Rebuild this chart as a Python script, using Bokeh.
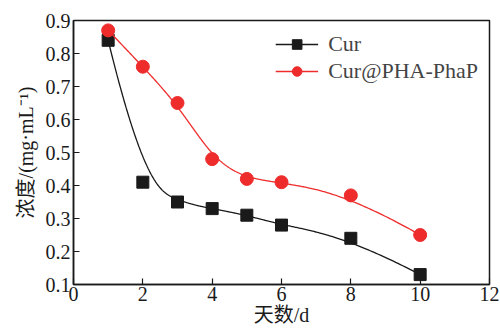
import numpy as np
from bokeh.plotting import figure
from bokeh.models import Legend, LegendItem, FixedTicker
from bokeh.embed import file_html
from bokeh.resources import INLINE

days = [1, 2, 3, 4, 5, 6, 8, 10]
cur = [0.84, 0.41, 0.35, 0.33, 0.31, 0.28, 0.24, 0.13]
cur_pha = [0.87, 0.76, 0.65, 0.48, 0.42, 0.41, 0.37, 0.25]
x_ticks = [0, 2, 4, 6, 8, 10, 12]
y_ticks = [0.1, 0.2, 0.3, 0.4, 0.5, 0.6, 0.7, 0.8, 0.9]

def bspline(x, y, n=400, k=3):
    """Clamped cubic B-spline using the data points as control points."""
    P = np.column_stack([x, y]).astype(float)
    m = len(P)
    knots = np.concatenate([np.zeros(k), np.linspace(0, 1, m - k + 1), np.ones(k)])
    ts = np.linspace(0, 1, n)
    out = []
    for t in ts:
        if t >= 1:
            i = m - 1
        else:
            i = np.searchsorted(knots, t, side="right") - 1
        d = [P[j].copy() for j in range(i - k, i + 1)]
        for r in range(1, k + 1):
            for j in range(k, r - 1, -1):
                a_den = knots[j + 1 + i - r] - knots[j + i - k]
                a = 0 if a_den == 0 else (t - knots[j + i - k]) / a_den
                d[j] = (1 - a) * d[j - 1] + a * d[j]
        out.append(d[k])
    out = np.array(out)
    out[-1] = P[-1]
    return out[:, 0], out[:, 1]

FONT = "'Liberation Serif', 'Noto Sans CJK SC'"
BLACK = "#1a1a1a"
RED = "#ee2c2c"

p = figure(width=500, height=333, x_range=(0, 12), y_range=(0.1, 0.9),
           output_backend="svg", toolbar_location=None,
           min_border_left=73, min_border_right=11, min_border_top=20, min_border_bottom=49)
p.grid.visible = False
p.outline_line_color = BLACK
p.outline_line_width = 1.5
p.background_fill_color = "white"
p.border_fill_color = "white"

for ax in (p.xaxis[0], p.yaxis[0]):
    ax.major_tick_in = 6
    ax.major_tick_out = 0
    ax.minor_tick_in = 0
    ax.minor_tick_out = 0
    ax.axis_line_color = BLACK
    ax.axis_line_width = 1.5
    ax.major_tick_line_color = BLACK
    ax.major_tick_line_width = 1.2
    ax.major_label_text_font = FONT
    ax.major_label_text_font_size = "20px"
    ax.major_label_text_color = BLACK
    ax.axis_label_text_font = FONT
    ax.axis_label_text_font_size = "20px"
    ax.axis_label_text_font_style = "normal"
    ax.axis_label_text_color = BLACK

p.xaxis.ticker = FixedTicker(ticks=x_ticks)
p.yaxis.ticker = FixedTicker(ticks=y_ticks)
p.xaxis.axis_label = "天数/d"
p.yaxis.axis_label = "浓度/(mg·mL⁻¹)"
p.xaxis.major_label_standoff = 2
p.xaxis.axis_label_standoff = 0
p.yaxis.major_label_standoff = 3
p.yaxis.axis_label_standoff = 6

sx, sy = bspline(days, cur)
rx, ry = bspline(days, cur_pha)
l1 = p.line(sx, sy, line_color=BLACK, line_width=1.3)
m1 = p.scatter(days, cur, marker="square", size=12, fill_color=BLACK, line_color=BLACK)
l2 = p.line(rx, ry, line_color=RED, line_width=1.3)
m2 = p.scatter(days, cur_pha, marker="circle", size=13, fill_color=RED, line_color=RED)

legend = Legend(items=[LegendItem(label="Cur", renderers=[l1, m1]),
                       LegendItem(label="Cur@PHA-PhaP", renderers=[l2, m2])],
                location="top_right", border_line_alpha=0, background_fill_alpha=0,
                label_text_font=FONT, label_text_font_size="22px",
                glyph_width=43, glyph_height=24, label_standoff=10, spacing=1,
                padding=0, margin=11, label_height=24)
p.add_layout(legend, "center")

open("out.html", "w").write(file_html(p, INLINE))
